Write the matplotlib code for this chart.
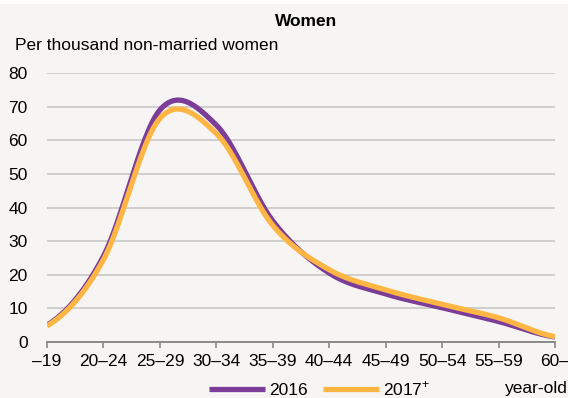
import numpy as np
import matplotlib
matplotlib.use("Agg")
import matplotlib.pyplot as plt
from matplotlib import font_manager
from matplotlib.patches import Rectangle

# 参考图用的是窄体字; 有 Narrow 就用 Narrow
names = {f.name for f in font_manager.fontManager.ttflist}
if "Liberation Sans Narrow" in names:
    base_font, fs = "Liberation Sans Narrow", 15.0
else:
    base_font, fs = "Liberation Sans", 12.5
plt.rcParams["font.family"] = [base_font, "DejaVu Sans"]
plt.rcParams["mathtext.fontset"] = "custom"
plt.rcParams["mathtext.rm"] = base_font

# 年龄组 / 每千名未婚女性
age_groups = ["–19", "20–24", "25–29", "30–34", "35–39", "40–44",
              "45–49", "50–54", "55–59", "60–"]
rate_2016 = [5.0, 25.5, 69.0, 64.5, 36.0, 20.5, 14.3, 10.2, 6.1, 1.5]
rate_2017 = [4.8, 24.5, 66.5, 62.0, 34.7, 21.5, 15.5, 11.2, 7.2, 1.6]
series_names = ["2016", "2017$^{+}$"]
colors = ["#7B3D97", "#FDB643"]
bg = "#F6F5F3"


def smooth(y, n=30):
    # Excel 风格的平滑线 (Catmull-Rom)
    y = np.asarray(y, dtype=float)
    p = np.concatenate([[y[0]], y, [y[-1]]])
    xs, ys = [], []
    for i in range(len(y) - 1):
        p0, p1, p2, p3 = p[i], p[i + 1], p[i + 2], p[i + 3]
        t = np.linspace(0, 1, n, endpoint=False)
        m1 = (p2 - p0) / 2
        m2 = (p3 - p1) / 2
        h00 = 2 * t**3 - 3 * t**2 + 1
        h10 = t**3 - 2 * t**2 + t
        h01 = -2 * t**3 + 3 * t**2
        h11 = t**3 - t**2
        xs.append(i + t)
        ys.append(h00 * p1 + h10 * m1 + h01 * p2 + h11 * m2)
    xs.append([len(y) - 1])
    ys.append([y[-1]])
    return np.concatenate(xs), np.concatenate(ys)


fig = plt.figure(figsize=(5.68, 3.98), dpi=100, facecolor=bg)
fig.patches.append(Rectangle((0, 1 - 4 / 398), 1, 4 / 398, transform=fig.transFigure,
                             facecolor="white", edgecolor="none", zorder=0))
ax = fig.add_axes([47 / 568, 56 / 398, (555 - 47) / 568, (342.5 - 73.5) / 398])
ax.set_facecolor(bg)

x = np.arange(len(age_groups))
for vals, name, c in zip([rate_2016, rate_2017], series_names, colors):
    sx, sy = smooth(vals)
    ax.plot(sx, sy, color=c, lw=3.8, solid_capstyle="butt", label=name, zorder=3)

ax.set_xlim(0, len(age_groups) - 1)
ax.set_ylim(0, 80)
ax.set_yticks(range(0, 81, 10))
ax.set_xticks(x)
ax.set_xticklabels(age_groups)
ax.grid(axis="y", color="#C4C4C4", lw=1.1)
ax.set_axisbelow(True)
for s in ["left", "right", "top"]:
    ax.spines[s].set_visible(False)
ax.spines["bottom"].set_color("#8A8A8A")
ax.spines["bottom"].set_linewidth(1.4)
ax.spines["bottom"].set_zorder(4)
ax.tick_params(axis="x", direction="out", length=4, width=1.2, color="#8A8A8A",
               labelsize=fs, pad=5)
ax.tick_params(axis="y", length=0, labelsize=fs, pad=14)

fig.text(306 / 568, 1 - 21 / 398, "Women", ha="center", va="center",
         fontsize=fs, fontweight="bold")
fig.text(15 / 568, 1 - 46 / 398, "Per thousand non-married women", ha="left",
         va="center", fontsize=fs)
fig.text(536 / 568, 1 - 389 / 398, "year-old", ha="center", va="center", fontsize=fs)

ax.legend(loc="center", bbox_to_anchor=(320 / 568, 1 - 389 / 398),
          bbox_transform=fig.transFigure, ncol=2, frameon=False, fontsize=fs,
          handlelength=3.2 * 12.5 / fs, handletextpad=0.25, columnspacing=0.9 * 12.5 / fs,
          borderpad=0)

fig.savefig("out.png", dpi=100, facecolor=bg)
